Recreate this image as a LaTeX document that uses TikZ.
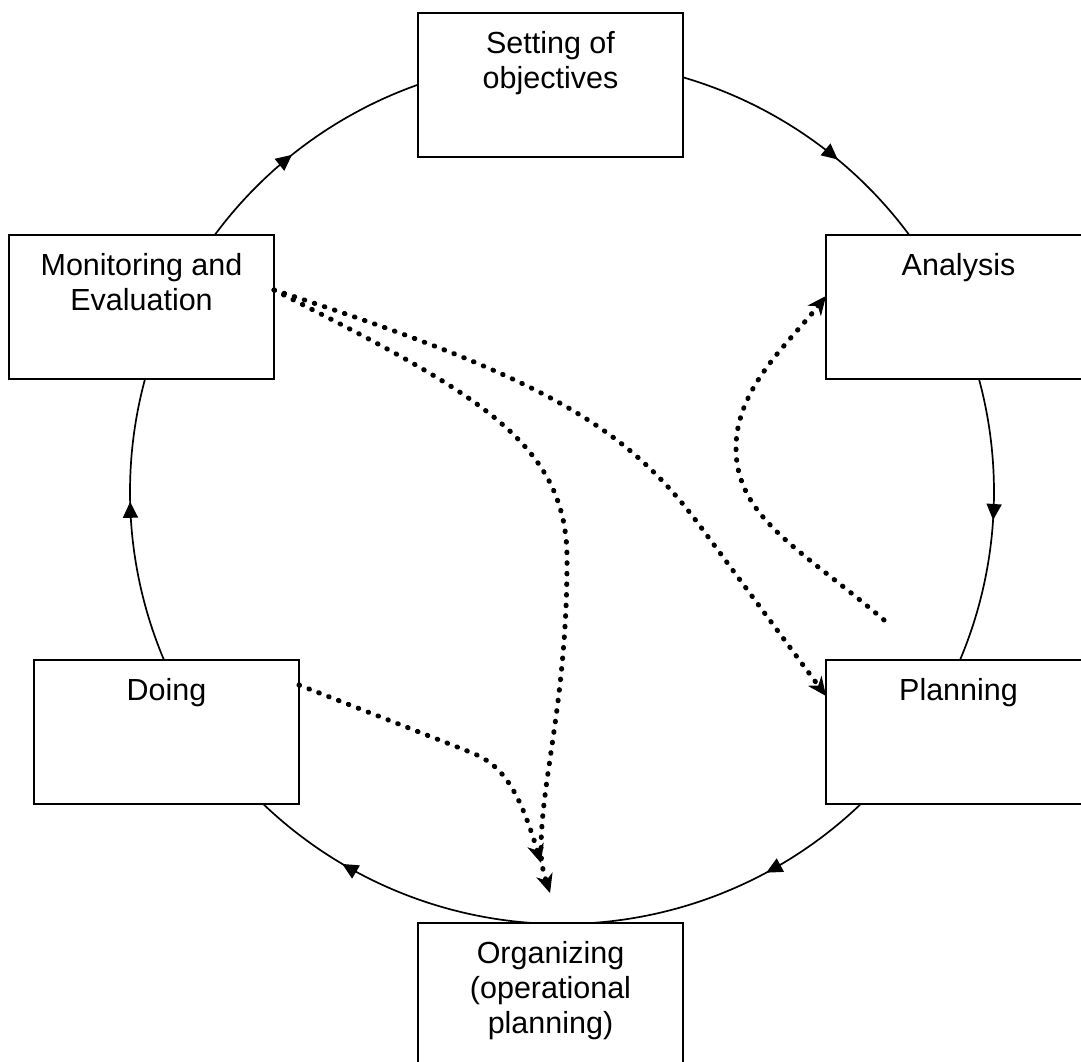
\documentclass[tikz,border=0pt]{standalone}
\usepackage{fontspec}
\setmainfont{Liberation Sans}
\usetikzlibrary{arrows.meta,decorations.markings,calc}

\newcommand\boxlabel[1]{\parbox[t][144pt][t]{265pt}{\centering\fontsize{30.5pt}{35pt}\selectfont\rule{0pt}{40.5pt}#1}}

\tikzset{
  stagebox/.style={draw, line width=1.8pt, fill=white, inner sep=0pt, outer sep=0pt, anchor=north west},
  cyc/.style={line width=1.7pt},
  dots/.style={line width=5pt, line cap=round, dash pattern=on 0.6pt off 10pt,
    -{Stealth[length=19pt,width=17pt,inset=6pt,line width=1pt]}}
}

\begin{document}
\begin{tikzpicture}[x=1pt,y=1pt]
\useasboundingbox (0,0) rectangle (1081,-1062);
\fill[white] (0,0) rectangle (1081,-1062);

% cycle arcs (clockwise), drawn first so the boxes cover them
\coordinate (c) at (562,-492);
\foreach \a/\b/\p in {91.6/24.8/0.618, 24.8/-31/0.511, -31/-91/0.513, -91/-149/0.510, -149/-204/0.540, -204/-268.4/0.424}{
  \draw[cyc, decoration={markings, mark=at position \p with {\arrow{Triangle[length=16pt,width=15pt]}}}, postaction={decorate}]
    ($(c)+(\a:432)$) arc[start angle=\a, end angle=\b, radius=432];
}

% stages
\node[stagebox] (top)   at (418,-12.7) {\boxlabel{Setting of\\objectives}};
\node[stagebox] (mon)   at (9,-235)    {\boxlabel{Monitoring and\\Evaluation}};
\node[stagebox] (ana)   at (826,-235)  {\boxlabel{Analysis}};
\node[stagebox] (doing) at (34,-660)   {\boxlabel{Doing}};
\node[stagebox] (plan)  at (826,-660)  {\boxlabel{Planning}};
\node[stagebox] (org)   at (418,-923)  {\boxlabel{Organizing\\(operational\\planning)}};

% free ends of dotted connectors
\coordinate (orgtipA) at (541,-863);
\coordinate (orgtipB) at (550,-893);
\coordinate (dstart)  at (884,-620);

% Monitoring -> Planning
\draw[dots] ([yshift=-55pt]mon.north east) .. controls (541,-376.8) and (626.3,-424.7) .. (703,-530) -- ([yshift=-36pt]plan.north west);
% Monitoring -> Organizing
\draw[dots] ([yshift=-55pt]mon.north east) .. controls (470,-390) and (568,-440) .. (567,-560)
   .. controls (567,-700) and (541,-780) .. (541,-850) .. controls (541,-868) and (546,-880) .. (orgtipB);
% Doing -> Organizing
\draw[dots] ([yshift=-25pt]doing.north east) -- (470,-752) .. controls (498.8,-763.2) and (517,-783) .. (orgtipA);
% feedback -> Analysis
\draw[dots] (dstart) .. controls (800.4,-548.5) and (736,-518) .. (736,-448)
   .. controls (736,-388) and (788,-344) .. ([yshift=-61pt]ana.north west);
\end{tikzpicture}
\end{document}
